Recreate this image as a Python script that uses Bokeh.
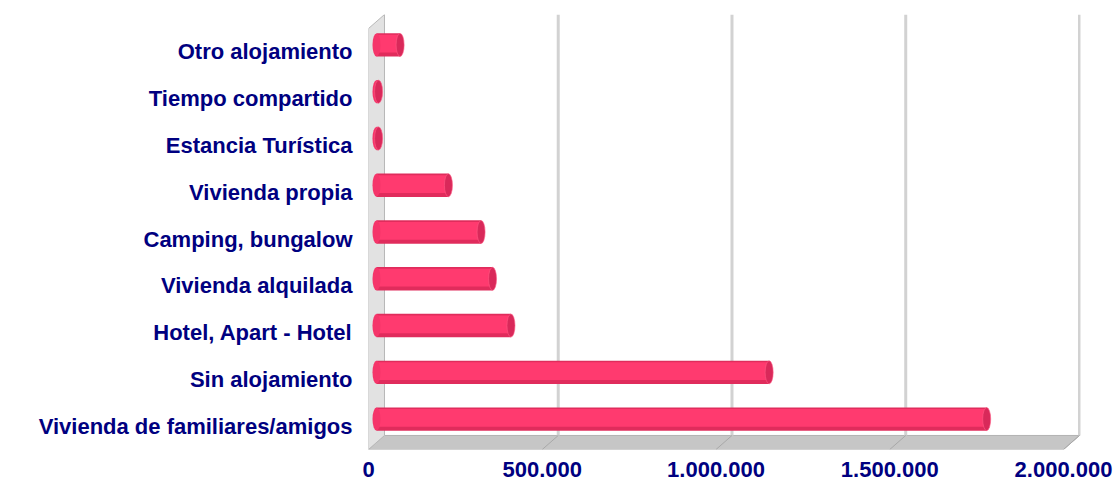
from bokeh.plotting import figure
from bokeh.models import Range1d, FixedTicker
from bokeh.embed import file_html
from bokeh.resources import INLINE

# ---- data (bottom to top) ----
categories = [
    "Vivienda de familiares/amigos",
    "Sin alojamiento",
    "Hotel, Apart - Hotel",
    "Vivienda alquilada",
    "Camping, bungalow",
    "Vivienda propia",
    "Estancia Turística",
    "Tiempo compartido",
    "Otro alojamiento",
]
values = [1756000, 1130000, 387000, 334000, 301000, 207000, 6000, 6000, 68000]
x_ticks = [0, 500000, 1000000, 1500000, 2000000]
x_tick_labels = ["0", "500.000", "1.000.000", "1.500.000", "2.000.000"]

# ---- style / 3D depth ----
DX = 46000      # depth offset along x (data units)
DY = 0.3        # depth offset along y (category units)
X_END = 2048920
LABEL_COLOR = "#000080"
FONT = "Liberation Sans"

n = len(categories)
p = figure(width=1118, height=490, output_backend="svg", toolbar_location=None,
           x_range=Range1d(0, X_END), y_range=Range1d(-0.5, n - 0.5 + DY),
           min_border_left=368, min_border_right=38,
           min_border_top=14, min_border_bottom=41)
p.outline_line_color = None
p.xgrid.visible = False
p.ygrid.visible = False
p.background_fill_color = "white"
p.border_fill_color = "white"

top = n - 0.5
floor_y = -0.5
xmax = x_ticks[-1]

# floor
p.patch(x=[0, DX, xmax + DX, xmax], y=[floor_y, floor_y + DY, floor_y + DY, floor_y],
        fill_color="#c6c6c6", line_color="#b2b2b2", line_width=1)
# left wall
p.patch(x=[0, 0, DX, DX], y=[floor_y, top, top + DY, floor_y + DY],
        fill_color="#e2e2e2", line_color="#b8b8b8", line_width=1)
# back-wall gridlines
gx = [t + DX for t in x_ticks[1:]]
p.segment(x0=gx, y0=[floor_y + DY] * len(gx), x1=gx, y1=[top + DY] * len(gx),
          line_color="#d2d2d2", line_width=3)
# floor diagonals
p.segment(x0=gx, y0=[floor_y + DY] * len(gx), x1=x_ticks[1:], y1=[floor_y] * len(gx),
          line_color="#a8a8a8", line_width=1)

# bars (mid-depth plane)
ys = [i + DY / 2 for i in range(n)]
rights = [v + DX / 2 for v in values]
p.hbar(y=ys, left=DX / 2, right=rights, height=0.5, fill_color="#e02c5c", line_color=None)
p.hbar(y=[y + 0.025 for y in ys], left=DX / 2, right=rights, height=0.38,
       fill_color="#ff3a6f", line_color=None)
p.ellipse(x=[DX / 2] * n, y=ys, width=8, height=23, width_units="screen",
          height_units="screen", fill_color="#f5356a", line_color=None)
p.ellipse(x=rights, y=ys, width=8, height=23, width_units="screen",
          height_units="screen", fill_color="#d9295a", line_color="#ff5a85", line_width=0.6)

# axes
xa = p.xaxis[0]
xa.ticker = FixedTicker(ticks=x_ticks)
xa.major_label_overrides = {t: lab for t, lab in zip(x_ticks, x_tick_labels)}
xa.minor_tick_line_color = None

ya = p.yaxis[0]
ya.ticker = FixedTicker(ticks=list(range(n)))
ya.major_label_overrides = {i: c for i, c in enumerate(categories)}
ya.minor_tick_line_color = None

for ax, standoff in ((xa, 12), (ya, 16)):
    ax.axis_line_color = None
    ax.major_tick_line_color = None
    ax.major_tick_out = 0
    ax.major_label_standoff = standoff
    ax.major_label_text_font = FONT
    ax.major_label_text_font_style = "bold"
    ax.major_label_text_font_size = "22px"
    ax.major_label_text_color = LABEL_COLOR

open("out.html", "w").write(file_html(p, INLINE))
